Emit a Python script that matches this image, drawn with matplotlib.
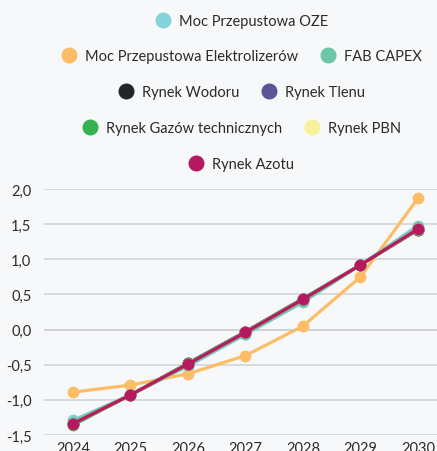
import matplotlib.pyplot as plt
from matplotlib.lines import Line2D
from matplotlib.ticker import FuncFormatter

# Data
years = [2024, 2025, 2026, 2027, 2028, 2029, 2030]
series_names = [
    "Moc Przepustowa OZE",
    "Moc Przepustowa Elektrolizerów",
    "FAB CAPEX",
    "Rynek Wodoru",
    "Rynek Tlenu",
    "Rynek Gazów technicznych",
    "Rynek PBN",
    "Rynek Azotu",
]
oze = [-1.29, -0.93, -0.52, -0.07, 0.39, 0.92, 1.48]
elektrolizery = [-0.89, -0.79, -0.63, -0.37, 0.05, 0.75, 1.87]
fab_capex = [-1.31, -0.93, -0.51, -0.06, 0.40, 0.92, 1.46]
wodor = [-1.34, -0.93, -0.48, -0.03, 0.44, 0.92, 1.42]
tlen = [-1.34, -0.93, -0.49, -0.04, 0.43, 0.92, 1.43]
gazy = [-1.36, -0.93, -0.48, -0.03, 0.44, 0.92, 1.42]
pbn = [-1.34, -0.93, -0.49, -0.04, 0.43, 0.92, 1.43]
azot = [-1.34, -0.93, -0.49, -0.04, 0.43, 0.92, 1.43]
all_values = [oze, elektrolizery, fab_capex, wodor, tlen, gazy, pbn, azot]
colors = ["#85d3da", "#fdbd67", "#6cc7a6", "#232629", "#5b5497", "#35b24f", "#f6f29b", "#b5195f"]

# legend rows (indices into series_names)
legend_rows = [[0], [1, 2], [3, 4], [5, 6], [7]]

BG = "#f7f8fa"
TXT = "#2b2b2b"
plt.rcParams['font.family'] = ['Lato', 'DejaVu Sans']

W, H = 437, 452
fig = plt.figure(figsize=(W / 100, H / 100), dpi=100, facecolor=BG)
ax = fig.add_axes([44 / W, (H - 436) / H, (W - 44) / W, (436 - 190) / H])
ax.set_facecolor(BG)

for vals, col in zip(all_values, colors):
    ax.plot(years, vals, color=col, lw=2.3, marker='o', ms=7.5,
            solid_capstyle='round', zorder=3)

ax.set_ylim(-1.5, 2.0)
ax.set_xlim(2024 - 29 / 57.5, 2030 + 19 / 57.5)
ax.set_yticks([-1.5, -1.0, -0.5, 0.0, 0.5, 1.0, 1.5, 2.0])
ax.set_xticks(years)
ax.yaxis.set_major_formatter(FuncFormatter(lambda v, p: f"{v:.1f}".replace('.', ',')))
ax.grid(axis='y', color='#d6d7da', lw=1.3, zorder=0)
ax.axhline(0, color='#9a9a9a', lw=1.3, zorder=1)
for s in ax.spines.values():
    s.set_visible(False)
ax.tick_params(axis='both', length=0, labelsize=10.5, colors=TXT)
ax.tick_params(axis='y', pad=9)
ax.tick_params(axis='x', pad=4)
for lbl in ax.get_yticklabels() + ax.get_xticklabels():
    lbl.set_clip_on(False)

# legend, one centered row at a time
row_y = [22, 57, 93, 129, 165]
for row, y in zip(legend_rows, row_y):
    handles = [Line2D([], [], ls='none', marker='o', ms=10.5, color=colors[i]) for i in row]
    labels = [series_names[i] for i in row]
    fig.legend(handles, labels, loc='center', bbox_to_anchor=(241 / W, 1 - y / H),
               ncol=len(row), frameon=False, fontsize=10.5, handletextpad=0.5,
               columnspacing=1.45, handlelength=1.2, labelcolor=TXT)

fig.savefig("out.png", dpi=100, facecolor=BG)
